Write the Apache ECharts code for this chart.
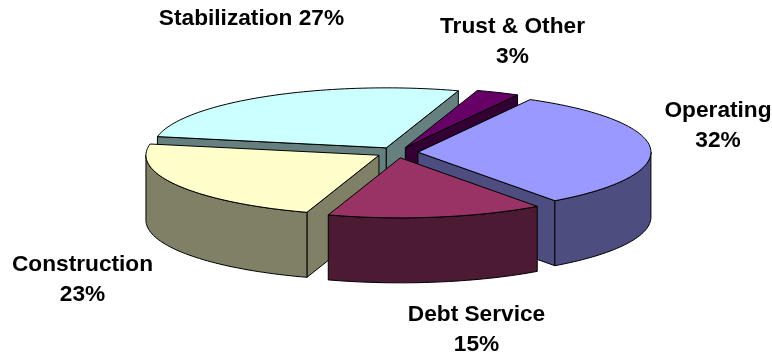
<!DOCTYPE html>
<html>
<head>
<meta charset="utf-8">
<style>html,body{margin:0;padding:0;background:#fff}#chart{width:772px;height:355px}</style>
<script src="https://cdn.jsdelivr.net/npm/echarts@6/dist/echarts.min.js"></script>
</head>
<body>
<div id="chart"></div>
<script>
// Budget shares, clockwise from the top right of the pie
const categories = ['Operating', 'Debt Service', 'Construction', 'Stabilization', 'Trust & Other'];
const shares = [32, 15, 23, 27, 3];
const topColors = ['#9999FF', '#993366', '#FFFFCC', '#CCFFFF', '#660066'];
const wallColors = ['#4D4D80', '#4D1A33', '#808066', '#668080', '#330033'];

// Slices are painted back to front so nearer ones cover farther ones
const paintOrder = [3, 4, 0, 2, 1];

// Projection of the tilted pie
const pie = { cx: 397, cy: 152.5, rx: 233, ry: 60, depth: 65, explode: 0.09, startDeg: -61.2 };

// Label anchors, one per category, with the text centred on each
const labelSpots = [[718, 126], [476.5, 329.5], [82.5, 280], [251.5, 19], [512.5, 41.5]];
const labelFont = 'bold 22.7px "Liberation Sans", Arial, sans-serif';
const labelLineHeight = 30;

const total = shares.reduce((a, b) => a + b, 0);
const startShare = shares.map((_, i) => shares.slice(0, i).reduce((a, b) => a + b, 0));
const rad = d => d * Math.PI / 180;

function rimPoint(o, deg) {
  return [o[0] + pie.rx * Math.cos(rad(deg)), o[1] + pie.ry * Math.sin(rad(deg))];
}
const lowered = p => [p[0], p[1] + pie.depth];

function arcPoints(o, from, to) {
  const steps = Math.max(2, Math.ceil((to - from) / 1.5));
  const pts = [];
  for (let k = 0; k <= steps; k++) pts.push(rimPoint(o, from + (to - from) * k / steps));
  return pts;
}

function face(points, fill) {
  return {
    type: 'polygon',
    shape: { points },
    style: { fill, stroke: '#000', lineWidth: 1, lineJoin: 'round' },
    silent: true
  };
}

function renderSlice(params, api) {
  const i = api.value(2);
  const value = api.value(0);
  const t0 = pie.startDeg + api.value(1) / total * 360;
  const t1 = t0 + value / total * 360;
  const mid = rad((t0 + t1) / 2);
  const o = [
    pie.cx + pie.explode * pie.rx * Math.cos(mid),
    pie.cy + pie.explode * pie.ry * Math.sin(mid)
  ];
  const children = [];

  // A cut face shows only when its outward side points toward the viewer
  if (Math.cos(rad(t0)) < 0) {
    const p = rimPoint(o, t0);
    children.push(face([o, p, lowered(p), lowered(o)], wallColors[i]));
  }
  if (Math.cos(rad(t1)) > 0) {
    const p = rimPoint(o, t1);
    children.push(face([o, p, lowered(p), lowered(o)], wallColors[i]));
  }

  // Curved outer wall, front half of the rim only
  const a = Math.max(t0, 0);
  const b = Math.min(t1, 180);
  if (b > a) {
    const rim = arcPoints(o, a, b);
    children.push(face(rim.concat(rim.map(lowered).reverse()), wallColors[i]));
  }

  // Top face
  children.push(face([o].concat(arcPoints(o, t0, t1)), topColors[i]));

  return { type: 'group', children };
}

const chart = echarts.init(document.getElementById('chart'), null, { renderer: 'canvas' });
chart.setOption({
  animation: false,
  backgroundColor: '#ffffff',
  series: [{
    type: 'custom',
    coordinateSystem: 'none',
    renderItem: renderSlice,
    data: paintOrder.map(i => [shares[i], startShare[i], i])
  }],
  graphic: categories.map((name, i) => ({
    type: 'text',
    x: labelSpots[i][0],
    y: labelSpots[i][1],
    silent: true,
    style: {
      text: name === 'Stabilization' ? name + ' ' + shares[i] + '%' : name + '\n' + shares[i] + '%',
      font: labelFont,
      lineHeight: labelLineHeight,
      fill: '#000',
      align: 'center',
      verticalAlign: 'middle'
    }
  }))
});
</script>
</body>
</html>
